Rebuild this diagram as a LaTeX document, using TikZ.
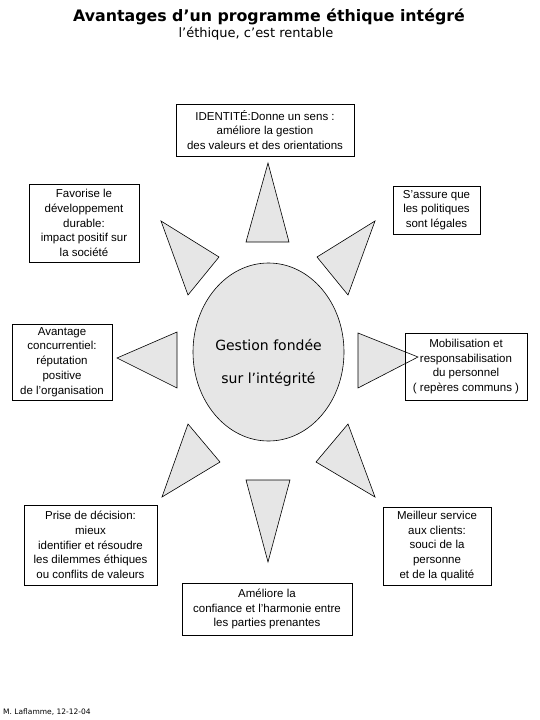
\documentclass[tikz,border=0pt]{standalone}
\usepackage{fontspec}
\setmainfont{Liberation Sans}
\newfontfamily\titlefont{DejaVu Sans}
\definecolor{raygray}{HTML}{E6E6E6}
\begin{document}
\begin{tikzpicture}[x=1pt,y=-1pt,
  infobox/.style={draw=black,line width=0.6pt,fill=white,inner sep=0pt,align=center,
    font=\fontsize{11.5}{14.8}\selectfont},
  ray/.style={draw=black,line width=0.6pt,fill=raygray,line join=miter}]
\useasboundingbox (0,0) rectangle (540,720);
% title
\node[font=\titlefont\bfseries\fontsize{15.8}{18}\selectfont] (title) at (269,17) {Avantages d’un programme éthique intégré};
\node[font=\titlefont\fontsize{13}{15}\selectfont] (subtitle) at (256,34) {l’éthique, c’est rentable};
% rays
\path[ray] (268,163) -- (289,242) -- (246,242) -- cycle;
\path[ray] (161,221) -- (219,257) -- (188,295) -- cycle;
\path[ray] (375,221) -- (317,257) -- (348,295) -- cycle;
\path[ray] (117,358) -- (177,332) -- (177,388) -- cycle;
\path[fill=raygray] (418,357) -- (358,333) -- (358,388) -- cycle;
\path[ray] (162,497) -- (188,424) -- (220,462) -- cycle;
\path[ray] (375,497) -- (348,424) -- (316,462) -- cycle;
\path[ray] (268,562) -- (290,480) -- (246,480) -- cycle;
% centre
\draw[line width=0.6pt,fill=raygray] (268.5,352) ellipse [x radius=75.5,y radius=89];
\node[font=\titlefont\fontsize{14}{16}\selectfont] (g1) at (268.5,345) {Gestion fondée};
\node[font=\titlefont\fontsize{14}{16}\selectfont] (g2) at (268.5,379) {sur l’intégrité};
% boxes
\node[infobox,minimum width=178,minimum height=52] (identite) at (265,130)
  {IDENTITÉ:Donne un sens :\\améliore la gestion\\des valeurs et des orientations};
\node[infobox,minimum width=110,minimum height=78] (durable) at (84,223)
  {Favorise le\\développement\\durable:\\impact positif sur\\la société};
\node[infobox,minimum width=87,minimum height=48] (legal) at (436.5,210)
  {S’assure que\\les politiques\\sont légales};
\node[infobox,minimum width=100,minimum height=76] (avantage) at (62,362)
  {Avantage\\concurrentiel:\\réputation\\positive\\de l’organisation};
\node[infobox,minimum width=122,minimum height=67] (mobil) at (466,366.5)
  {Mobilisation et\\responsabilisation\\du personnel\\( repères communs )};
\draw[line width=0.6pt,line join=miter] (418,357) -- (358,333) -- (358,388) -- cycle;
\node[infobox,minimum width=133,minimum height=80] (decision) at (90.5,545)
  {Prise de décision:\\mieux\\identifier et résoudre\\les dilemmes éthiques\\ou conflits de valeurs};
\node[infobox,minimum width=108,minimum height=78] (service) at (437,546)
  {Meilleur service\\aux clients:\\souci de la\\personne\\et de la qualité};
\node[infobox,minimum width=170,minimum height=52] (confiance) at (267,609)
  {Améliore la\\confiance et l’harmonie entre\\les parties prenantes};
% footer
\node[anchor=west,font=\titlefont\fontsize{7.5}{9}\selectfont,inner sep=0pt] (footer) at (3,712) {M. Laflamme, 12-12-04};
\end{tikzpicture}
\end{document}
